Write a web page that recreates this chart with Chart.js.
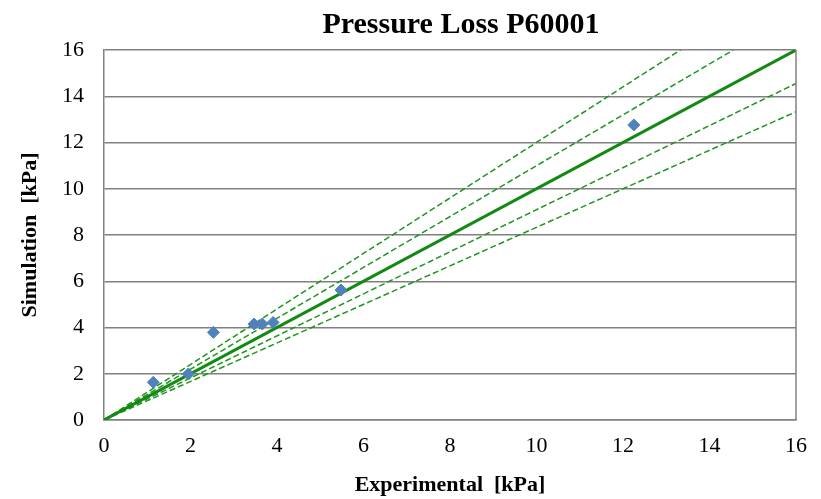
<!DOCTYPE html>
<html>
<head>
<meta charset="utf-8">
<script src="https://cdn.jsdelivr.net/npm/chart.js@4/dist/chart.umd.min.js"></script>
<style>
  html, body { margin: 0; padding: 0; background: #fff; }
  #wrap { width: 821px; height: 499px; }
</style>
</head>
<body>
<div id="wrap"><canvas id="pressure_chart" width="821" height="499"></canvas></div>
<script>
// measured points, experimental vs simulation [kPa]
var experimental = [1.14, 1.95, 2.53, 3.47, 3.66, 3.91, 5.48, 12.25];
var simulation = [1.63, 1.99, 3.79, 4.15, 4.15, 4.22, 5.62, 12.76];

// reference lines (start and end points)
var idealX = [0, 16];
var idealY = [0, 16];
var plus20X = [0, 13.33];
var plus20Y = [0, 16];
var plus10X = [0, 14.55];
var plus10Y = [0, 16];
var minus10X = [0, 16];
var minus10Y = [0, 14.55];
var minus20X = [0, 16];
var minus20Y = [0, 13.33];

var axisTicks = [0, 2, 4, 6, 8, 10, 12, 14, 16];
var chartTitle = 'Pressure Loss P60001';

function toPoints(xs, ys) {
    return xs.map(function (x, i) { return { x: x, y: ys[i] }; });
}

function dashed(xs, ys) {
    return {
        data: toPoints(xs, ys),
        showLine: true,
        borderColor: '#1f951f',
        borderWidth: 1.5,
        borderDash: [6, 3],
        pointRadius: 0,
        order: 2
    };
}

var serif = "'Liberation Serif', 'DejaVu Serif', serif";

var ctx = document.getElementById('pressure_chart').getContext('2d');
window.pressureChart = new Chart(ctx, {
    type: 'scatter',
    data: {
        datasets: [
            {
                data: toPoints(experimental, simulation),
                pointStyle: 'rectRot',
                pointRadius: 6,
                backgroundColor: '#4f81bd',
                borderColor: '#4f81bd',
                order: 0
            },
            {
                data: toPoints(idealX, idealY),
                showLine: true,
                borderColor: '#128a12',
                borderWidth: 3,
                pointRadius: 0,
                order: 1
            },
            dashed(plus20X, plus20Y),
            dashed(plus10X, plus10Y),
            dashed(minus10X, minus10Y),
            dashed(minus20X, minus20Y)
        ]
    },
    options: {
        responsive: false,
        animation: false,
        layout: { padding: { left: 0, right: 25, top: 50, bottom: 0 } },
        plugins: {
            legend: { display: false },
            tooltip: { enabled: false }
        },
        scales: {
            x: {
                type: 'linear',
                min: 0,
                max: 16,
                afterBuildTicks: function (axis) {
                    axis.ticks = axisTicks.map(function (v) { return { value: v }; });
                },
                afterFit: function (axis) { axis.height = 79; },
                grid: { display: false, drawTicks: false },
                border: { color: '#808080', width: 1.5 },
                ticks: { color: '#000', font: { family: serif, size: 22 }, padding: 13, maxRotation: 0 },
                title: {
                    display: true,
                    text: 'Experimental  [kPa]',
                    color: '#000',
                    font: { family: serif, size: 22, weight: 'bold' },
                    padding: { top: 4, bottom: 0 }
                }
            },
            y: {
                type: 'linear',
                min: 0,
                max: 16,
                afterBuildTicks: function (axis) {
                    axis.ticks = axisTicks.map(function (v) { return { value: v }; });
                },
                afterFit: function (axis) { axis.width = 104; },
                grid: { color: '#808080', lineWidth: 1.5, drawTicks: false },
                border: { color: '#808080', width: 1.5 },
                ticks: { color: '#000', font: { family: serif, size: 22 }, padding: 20 },
                title: {
                    display: true,
                    text: 'Simulation  [kPa]',
                    color: '#000',
                    font: { family: serif, size: 22, weight: 'bold' },
                    padding: { top: 17, bottom: 0 }
                }
            }
        }
    },
    plugins: [{
        // right edge of plot box and the chart title
        id: 'frameAndTitle',
        afterDraw: function (chart) {
            var a = chart.chartArea;
            var c = chart.ctx;
            c.save();
            c.strokeStyle = '#808080';
            c.lineWidth = 1.5;
            c.beginPath();
            c.moveTo(a.right, a.top);
            c.lineTo(a.right, a.bottom);
            c.stroke();
            c.fillStyle = '#000';
            c.font = 'bold 30px ' + serif;
            c.textAlign = 'center';
            c.textBaseline = 'middle';
            c.fillText(chartTitle, 461, 25);
            c.restore();
        }
    }]
});
</script>
</body>
</html>
